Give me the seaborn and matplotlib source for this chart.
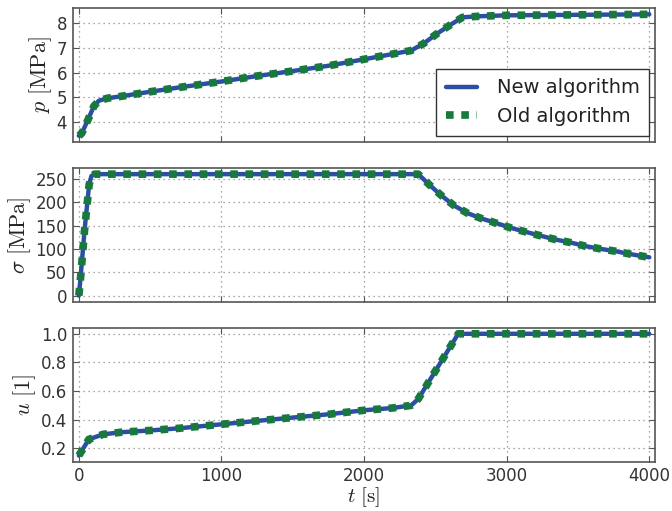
import matplotlib
matplotlib.use("Agg")
import matplotlib.pyplot as plt
import seaborn as sns

# ---------------- data ----------------
t_p = [0, 20, 65, 105, 140, 200, 300, 500, 700, 1000, 1250, 1500, 1750,
       2000, 2200, 2330, 2420, 2510, 2600, 2690, 2800, 3000, 3500, 4000]
p_vals = [3.47, 3.56, 4.12, 4.65, 4.87, 4.97, 5.05, 5.23, 5.40, 5.64, 5.86,
          6.06, 6.27, 6.53, 6.74, 6.88, 7.17, 7.55, 7.89, 8.21, 8.25, 8.29,
          8.31, 8.33]

t_s = [0, 12, 40, 72, 88, 110, 2380, 2466, 2543, 2630, 2725, 2824, 2929,
       3029, 3132, 3240, 3343, 3448, 3554, 3659, 3764, 3871, 4000]
s_vals = [0, 38, 140, 237, 256, 260, 260, 235, 214, 193, 176.5, 165, 155,
          145, 136.5, 128, 120, 113.6, 105.8, 100, 95, 88.6, 82]

t_u = [0, 70, 170, 300, 500, 700, 1000, 1250, 1500, 1750, 2000, 2200, 2330,
       2380, 2660, 4000]
u_vals = [0.15, 0.263, 0.298, 0.313, 0.325, 0.340, 0.368, 0.392, 0.415,
          0.438, 0.466, 0.482, 0.50, 0.545, 1.0, 1.0]

series_labels = ["New algorithm", "Old algorithm"]
y_labels = [r"$p\ [\mathrm{MPa}]$", r"$\sigma\ [\mathrm{MPa}]$", r"$u\ [1]$"]
x_label = r"$t\ [\mathrm{s}]$"
x_ticks = [0, 1000, 2000, 3000, 4000]
y_ticks = [[4, 5, 6, 7, 8], [0, 50, 100, 150, 200, 250],
           [0.2, 0.4, 0.6, 0.8, 1.0]]

# ---------------- style ----------------
sns.set_theme(style="ticks")
plt.rcParams.update({
    "font.family": ["DejaVu Sans"],
    "mathtext.fontset": "cm",
    "axes.edgecolor": "#555555",
    "axes.linewidth": 1.2,
    "xtick.direction": "in",
    "ytick.direction": "in",
    "xtick.top": True,
    "ytick.right": True,
})

blue = "#2c4fa3"
green = "#177a3c"

fig = plt.figure(figsize=(6.72, 5.11), dpi=100)
left, width = 0.1082, 0.8665
bottoms = [0.7227, 0.4096, 0.0965]
height = 0.2615
axes = []
for i, b in enumerate(bottoms):
    ax = fig.add_axes([left, b, width, height],
                      sharex=axes[0] if axes else None)
    axes.append(ax)

datasets = [(t_p, p_vals), (t_s, s_vals), (t_u, u_vals)]
ylims = [(3.23, 8.58), (-13, 273), (0.107, 1.04)]

for ax, (tx, vy), yl, yt, lim in zip(axes, datasets, y_labels, y_ticks, ylims):
    sns.lineplot(x=tx, y=vy, ax=ax, color=blue, lw=3.2, sort=False,
                 estimator=None, label=series_labels[0], legend=False)
    sns.lineplot(x=tx, y=vy, ax=ax, color=green, lw=5.5, sort=False,
                 estimator=None, label=series_labels[1], legend=False,
                 linestyle=(0, (1, 1)), dash_capstyle="butt")
    ax.set_xlim(-43, 4040)
    ax.set_ylim(*lim)
    ax.set_yticks(yt)
    ax.set_xticks(x_ticks)
    ax.grid(True, linestyle=(0, (1, 3)), color="#8a8a8a", linewidth=0.9)
    ax.tick_params(axis="both", labelsize=12, length=4, width=0.8,
                   colors="#555555", labelcolor="#333333", pad=4)
    ax.set_ylabel(yl, fontsize=16, labelpad=2, color="#222222")
    for s in ax.spines.values():
        s.set_visible(True)

axes[2].yaxis.set_major_formatter(matplotlib.ticker.FormatStrFormatter("%.1f"))
for ax in axes[:2]:
    ax.tick_params(labelbottom=False)
axes[2].set_xlabel(x_label, fontsize=15, labelpad=0, color="#222222")

handles = axes[0].get_lines()[:2]
leg = axes[0].legend(handles, series_labels, loc="lower right", fontsize=14,
                     frameon=True, fancybox=False, framealpha=1,
                     edgecolor="#333333", handlelength=1.6,
                     handletextpad=1.0, borderaxespad=0.3, borderpad=0.5)
leg.get_frame().set_linewidth(1.0)
for txt in leg.get_texts():
    txt.set_color("#222222")

fig.savefig("out.png", dpi=100)
